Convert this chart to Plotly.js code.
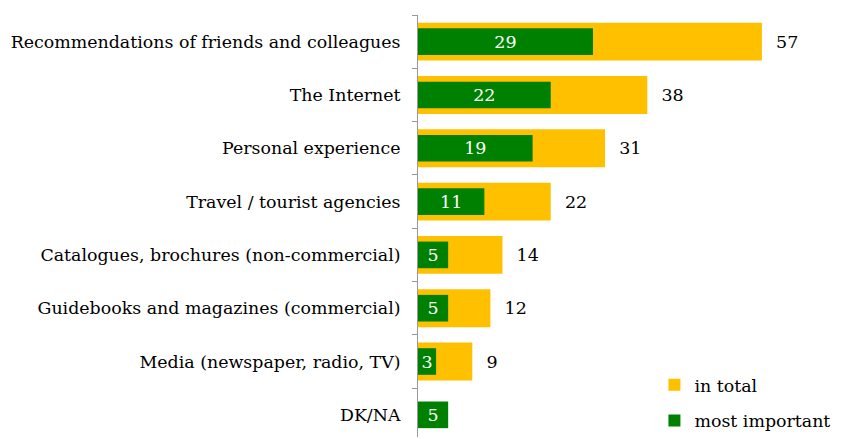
<!DOCTYPE html>
<html>
<head>
<meta charset="utf-8">
<script src="https://cdn.plot.ly/plotly-3.0.1.min.js"></script>
<style>html,body{margin:0;padding:0;background:#fff;}#chart{width:844px;height:439px;}</style>
</head>
<body>
<div id="chart"></div>
<script>
const categories = [
  "Recommendations of friends and colleagues",
  "The Internet",
  "Personal experience",
  "Travel / tourist agencies",
  "Catalogues, brochures (non-commercial)",
  "Guidebooks and magazines (commercial)",
  "Media (newspaper, radio, TV)",
  "DK/NA"
];
const inTotal = [57, 38, 31, 22, 14, 12, 9, null];
const mostImportant = [29, 22, 19, 11, 5, 5, 3, 5];
const seriesNames = ["in total", "most important"];

const FONT = "DejaVu Serif, Liberation Serif, serif";

const traces = [
  {
    type: "bar", orientation: "h", name: seriesNames[0],
    y: categories, x: inTotal, width: 0.71,
    marker: {color: "#FFC000"},
    texttemplate: "\u00a0\u00a0%{x}",
    textposition: "outside", cliponaxis: false, constraintext: "none",
    textfont: {family: FONT, size: 17.5, color: "#000"},
    legendgroup: "a", hoverinfo: "none"
  },
  {
    type: "bar", orientation: "h", name: seriesNames[1],
    y: categories, x: mostImportant, width: 0.5,
    marker: {color: "#008000"},
    text: mostImportant.map(String),
    textposition: "inside", insidetextanchor: "middle", constraintext: "none",
    textfont: {family: FONT, size: 17.5, color: "#fff"},
    legendgroup: "b", hoverinfo: "none"
  }
];

const layout = {
  width: 844, height: 439,
  margin: {l: 418, r: 0, t: 15, b: 0, pad: 0},
  paper_bgcolor: "#fff", plot_bgcolor: "#fff",
  barmode: "overlay",
  font: {family: FONT, size: 17.4, color: "#000"},
  xaxis: {range: [0, 70.6], visible: false, fixedrange: true},
  yaxis: {
    type: "category", range: [7.416, -0.5],
    showline: true, linecolor: "#999", linewidth: 1,
    ticks: "outside", tickson: "boundaries", ticklen: 5, tickcolor: "#999",
    ticklabelstandoff: 13,
    showgrid: false, zeroline: false,
    tickfont: {family: FONT, size: 17.4, color: "#000"}
  },
  showlegend: true,
  legend: {
    x: 0.555, xanchor: "left", y: 0.165, yanchor: "top",
    traceorder: "grouped", tracegroupgap: 10,
    font: {family: FONT, size: 17.4, color: "#000"},
    bgcolor: "rgba(0,0,0,0)", itemwidth: 30
  }
};

Plotly.newPlot("chart", traces, layout, {staticPlot: true, displayModeBar: false});
</script>
</body>
</html>
